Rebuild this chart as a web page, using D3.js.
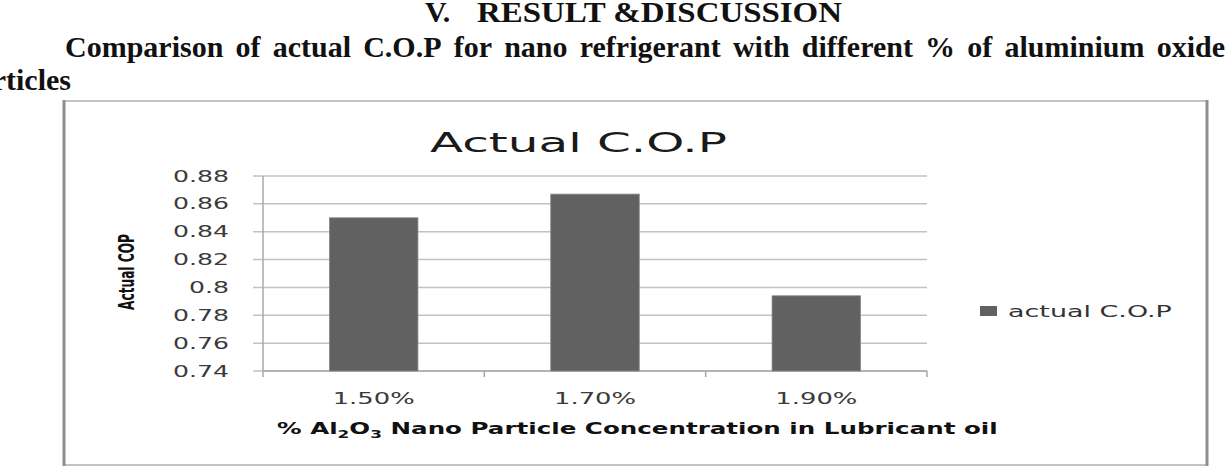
<html>
<head>
  <script src="https://d3js.org/d3.v7.min.js"></script>
  <style>
    body { margin: 0; background: #fff; }
    .serif { font-family: "Liberation Serif", "Times New Roman", serif; font-weight: bold; fill: #111; }
    .sans { font-family: "DejaVu Sans", sans-serif; }
  </style>
</head>
<body>
  <svg id="chart" width="1228" height="468"></svg>
  <script>
    // data
    const categories = ["1.50%", "1.70%", "1.90%"];
    const copValues = [0.850, 0.867, 0.794];
    const yTicks = [0.74, 0.76, 0.78, 0.8, 0.82, 0.84, 0.86, 0.88];
    const seriesName = "actual C.O.P";
    const chartTitle = "Actual C.O.P";
    const yTitle = "Actual COP";

    const svg = d3.select("svg#chart");
    svg.append("rect").attr("width", 1228).attr("height", 468).attr("fill", "#fff");

    // stretch a text horizontally so it spans `width` px, anchored at (x, y)
    function fit(t, x, y, width) {
      const w = t.node().getComputedTextLength();
      t.attr("x", 0).attr("y", 0)
        .attr("transform", `translate(${x},${y}) scale(${width / w},1)`);
      return width / w;
    }

    // ---- page text above the chart ----
    svg.append("text").attr("class", "serif").attr("x", 425).attr("y", 22)
      .style("font-size", "30px").text("V.");
    svg.append("text").attr("class", "serif").attr("x", 477).attr("y", 22)
      .style("font-size", "30px")
      .attr("textLength", 365).attr("lengthAdjust", "spacingAndGlyphs")
      .text("RESULT &DISCUSSION");

    // justified line
    const line2 = "Comparison of actual C.O.P for nano refrigerant with different % of aluminium oxide".split(" ");
    const words = line2.map(w => svg.append("text").attr("class", "serif")
      .attr("y", 56.5).style("font-size", "30px").text(w));
    const wordW = words.map(t => t.node().getComputedTextLength());
    const gap = (1225 - 65 - d3.sum(wordW)) / (words.length - 1);
    let cx = 65;
    words.forEach((t, i) => { t.attr("x", cx); cx += wordW[i] + gap; });

    svg.append("text").attr("class", "serif").attr("x", -39).attr("y", 90)
      .style("font-size", "30px").text("particles");

    // ---- chart box ----
    svg.append("rect").attr("x", 64).attr("y", 101).attr("width", 1143).attr("height", 364)
      .attr("fill", "#fff").attr("stroke", "#c4c4c4").attr("stroke-width", 2);
    svg.append("line").attr("x1", 64).attr("x2", 64).attr("y1", 100).attr("y2", 466)
      .attr("stroke", "#8e8e8e").attr("stroke-width", 3);
    svg.append("line").attr("x1", 1207).attr("x2", 1207).attr("y1", 100).attr("y2", 466)
      .attr("stroke", "#8e8e8e").attr("stroke-width", 3);

    // scales
    const x = d3.scaleBand().domain(categories).range([263, 927])
      .paddingInner(0.6).paddingOuter(0.3);
    const y = d3.scaleLinear().domain([0.74, 0.88]).range([371, 176]);

    // gridlines + left tick marks
    svg.append("g").selectAll("line").data(yTicks).join("line")
      .attr("x1", 253).attr("x2", 927)
      .attr("y1", d => y(d)).attr("y2", d => y(d))
      .attr("stroke", "#c2c2c2").attr("stroke-width", 1.5);

    // axes lines
    svg.append("line").attr("x1", 263).attr("x2", 263).attr("y1", y(0.88)).attr("y2", y(0.74))
      .attr("stroke", "#a8a8a8").attr("stroke-width", 1.5);
    svg.append("line").attr("x1", 263).attr("x2", 927).attr("y1", y(0.74)).attr("y2", y(0.74))
      .attr("stroke", "#a8a8a8").attr("stroke-width", 1.5);
    const bounds = categories.map(c => x(c) - (x.step() - x.bandwidth()) / 2)
      .concat([x(categories[2]) + x.bandwidth() + (x.step() - x.bandwidth()) / 2]);
    svg.append("g").selectAll("line").data(bounds).join("line")
      .attr("x1", d => d).attr("x2", d => d)
      .attr("y1", y(0.74)).attr("y2", y(0.74) + 6)
      .attr("stroke", "#a8a8a8").attr("stroke-width", 1.5);

    // bars
    svg.append("g").selectAll("rect").data(copValues).join("rect")
      .attr("x", (d, i) => x(categories[i]))
      .attr("width", x.bandwidth())
      .attr("y", d => y(d))
      .attr("height", d => y(0.74) - y(d))
      .attr("fill", "#616161")
      .attr("stroke", "#8a8a8a").attr("stroke-width", 0.8);

    // y tick labels
    const fmt = d => String(+d.toFixed(2));
    const probe = svg.append("text").attr("class", "sans").style("font-size", "16.5px").text("0.88");
    const ky = 56 / probe.node().getComputedTextLength();
    probe.remove();
    svg.append("g").selectAll("text").data(yTicks).join("text")
      .attr("class", "sans").style("font-size", "16.5px").attr("fill", "#3a3a3a")
      .attr("text-anchor", "end")
      .attr("transform", d => `translate(229,${y(d) + 5.5}) scale(${ky},1)`)
      .text(fmt);

    // x tick labels
    const probe2 = svg.append("text").attr("class", "sans").style("font-size", "15px").text("1.50%");
    const kx = 82 / probe2.node().getComputedTextLength();
    probe2.remove();
    svg.append("g").selectAll("text").data(categories).join("text")
      .attr("class", "sans").style("font-size", "15px").attr("fill", "#3a3a3a")
      .attr("text-anchor", "middle")
      .attr("transform", d => `translate(${x(d) + x.bandwidth() / 2},404) scale(${kx},1)`)
      .text(d => d);

    // chart title
    const title = svg.append("text").attr("class", "sans").style("font-size", "27px")
      .attr("fill", "#1a1a1a").text(chartTitle);
    fit(title, 430, 152, 297);

    // x axis title with subscripts
    const xt = svg.append("text").attr("class", "sans").style("font-size", "16px")
      .style("font-weight", "bold").attr("fill", "#111");
    xt.append("tspan").text("% Al");
    xt.append("tspan").attr("dy", 4).style("font-size", "11px").text("2");
    xt.append("tspan").attr("dy", -4).text("O");
    xt.append("tspan").attr("dy", 4).style("font-size", "11px").text("3");
    xt.append("tspan").attr("dy", -4).text(" Nano Particle Concentration in Lubricant oil");
    fit(xt, 277, 434, 721);

    // y axis title (rotated, condensed)
    const yt = svg.append("text").attr("class", "sans").style("font-size", "21px")
      .style("font-weight", "bold").attr("fill", "#111")
      .attr("text-anchor", "middle").text(yTitle);
    const wy = yt.node().getComputedTextLength();
    yt.attr("transform", `translate(134,272) rotate(-90) scale(${76 / wy},1)`);

    // legend
    svg.append("rect").attr("x", 980).attr("y", 306).attr("width", 17).attr("height", 10)
      .attr("fill", "#616161");
    const lg = svg.append("text").attr("class", "sans").style("font-size", "16px")
      .attr("fill", "#333").text(seriesName);
    fit(lg, 1008, 317, 164);
  </script>
</body>
</html>
